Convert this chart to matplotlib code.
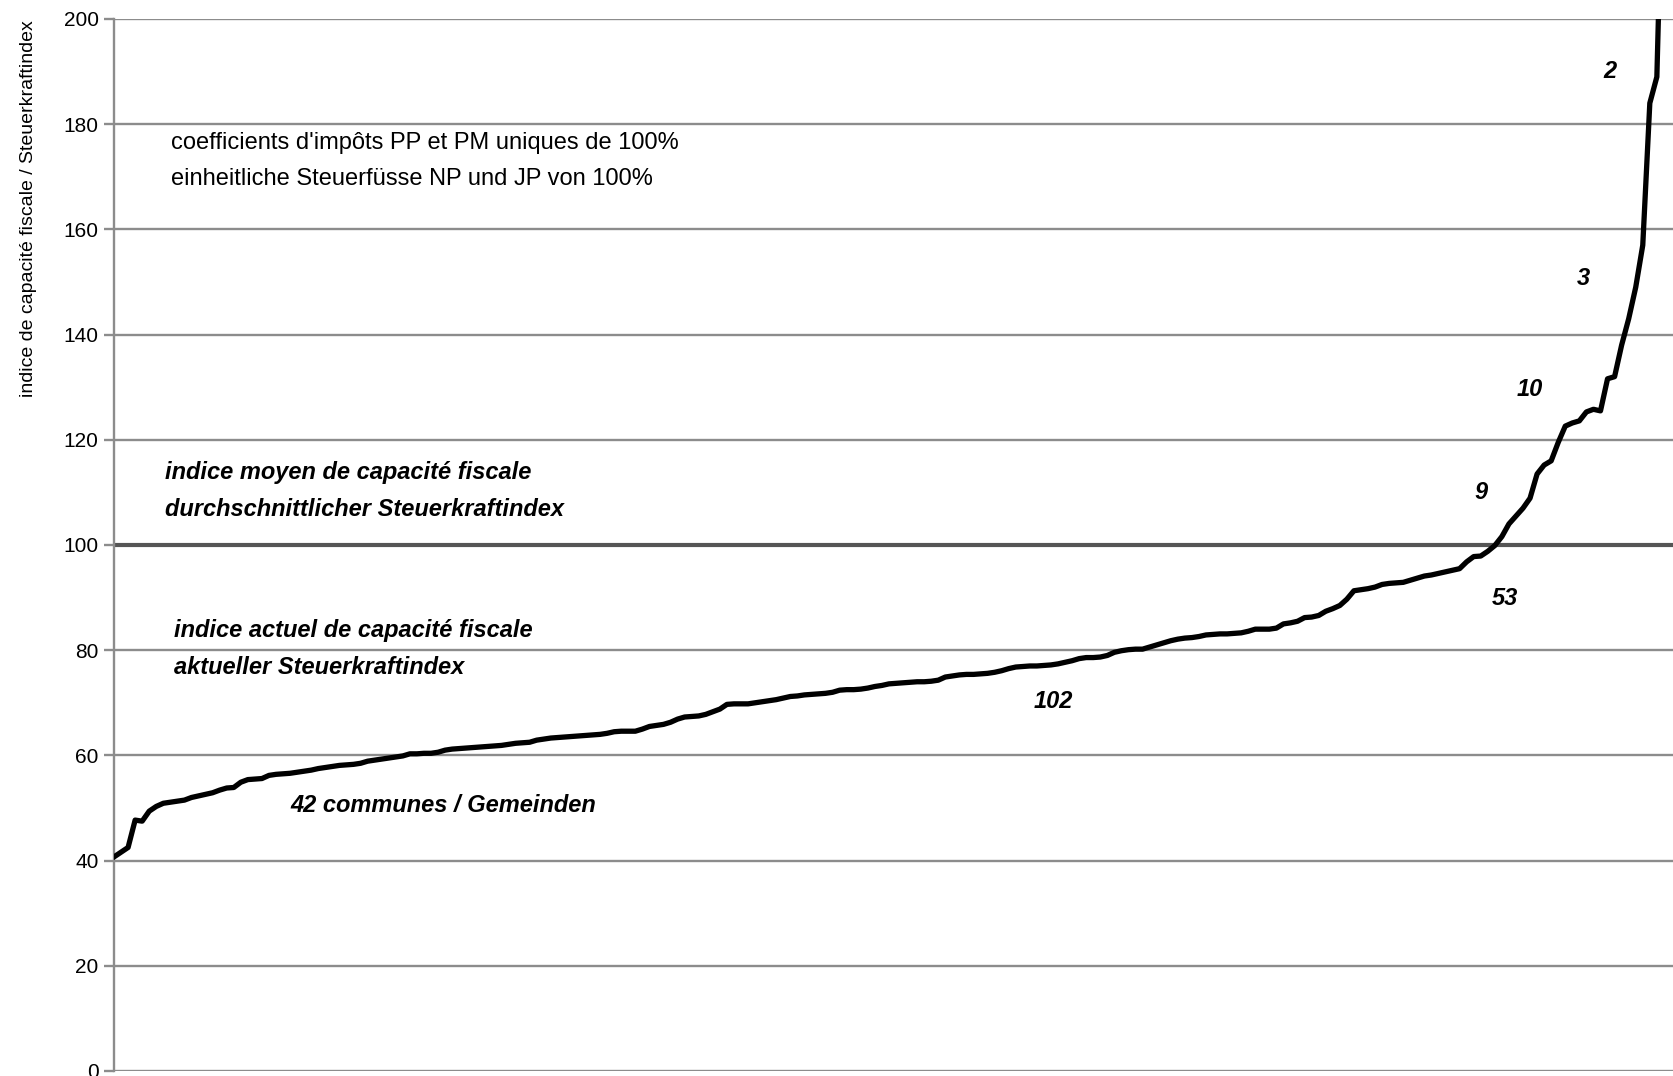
import matplotlib
matplotlib.use('Agg')
import matplotlib.pyplot as plt

# sorted tax capacity index per commune
indices = [
    40.7, 41.6, 42.5, 47.7, 47.5, 49.4, 50.3, 50.9, 51.1, 51.3,
    51.5, 52.0, 52.3, 52.6, 52.9, 53.4, 53.8, 53.9, 54.9, 55.4,
    55.5, 55.6, 56.2, 56.4, 56.5, 56.6, 56.8, 57.0, 57.2, 57.5,
    57.7, 57.9, 58.1, 58.2, 58.3, 58.5, 58.9, 59.1, 59.3, 59.5,
    59.7, 59.9, 60.3, 60.3, 60.4, 60.4, 60.6, 61.0, 61.2, 61.3,
    61.4, 61.5, 61.6, 61.7, 61.8, 61.9, 62.1, 62.3, 62.4, 62.5,
    62.9, 63.1, 63.3, 63.4, 63.5, 63.6, 63.7, 63.8, 63.9, 64.0,
    64.2, 64.5, 64.6, 64.6, 64.6, 65.0, 65.5, 65.7, 65.9, 66.3,
    66.9, 67.3, 67.4, 67.5, 67.8, 68.3, 68.8, 69.7, 69.8, 69.8,
    69.8, 70.0, 70.2, 70.4, 70.6, 70.9, 71.2, 71.3, 71.5, 71.6,
    71.7, 71.8, 72.0, 72.4, 72.5, 72.5, 72.6, 72.8, 73.1, 73.3,
    73.6, 73.7, 73.8, 73.9, 74.0, 74.0, 74.1, 74.3, 74.9, 75.1,
    75.3, 75.4, 75.4, 75.5, 75.6, 75.8, 76.1, 76.5, 76.8, 76.9,
    77.0, 77.0, 77.1, 77.2, 77.4, 77.7, 78.0, 78.4, 78.6, 78.6,
    78.7, 79.0, 79.6, 79.9, 80.1, 80.2, 80.2, 80.6, 81.0, 81.4,
    81.8, 82.1, 82.3, 82.4, 82.6, 82.9, 83.0, 83.1, 83.1, 83.2,
    83.3, 83.6, 84.0, 84.0, 84.0, 84.2, 85.0, 85.2, 85.5, 86.2,
    86.3, 86.6, 87.4, 87.9, 88.5, 89.7, 91.3, 91.5, 91.7, 92.0,
    92.5, 92.7, 92.8, 92.9, 93.3, 93.7, 94.1, 94.3, 94.6, 94.9,
    95.2, 95.5, 96.8, 97.8, 97.9, 98.8, 99.9, 101.6, 104.0, 105.5,
    107.0, 108.9, 113.5, 115.2, 116.0, 119.5, 122.6, 123.2, 123.6, 125.3,
    125.8, 125.5, 131.6, 132.0, 138.0, 143.0, 149.0, 157.0, 184.0, 189.0,
    240.0,
]
communes = list(range(1, len(indices) + 1))

yticks = [0, 20, 40, 60, 80, 100, 120, 140, 160, 180, 200]
mean_index = 100

ylabel = 'indice de capacité fiscale / Steuerkraftindex'
note_lines = ["coefficients d'impôts PP et PM uniques de 100%",
              'einheitliche Steuerfüsse NP und JP von 100%']
mean_lines = ['indice moyen de capacité fiscale', 'durchschnittlicher Steuerkraftindex']
actual_lines = ['indice actuel de capacité fiscale', 'aktueller Steuerkraftindex']
group_labels = ['42 communes / Gemeinden', '102', '53', '9', '10', '3', '2']
group_pos = [(26, 50.4), (134.4, 70.3), (198.4, 89.9), (195, 110), (202, 129.5), (209.5, 150.6), (213.4, 190)]

plt.rcParams['font.family'] = ['Liberation Sans', 'DejaVu Sans']

W, H = 1674, 1076
fig = plt.figure(figsize=(W / 100, H / 100), dpi=100)
ax_left = 114 / W
ax_bottom = (H - 1071) / H
ax_top = (H - 19) / H
ax_right = 1700 / W
ax = fig.add_axes([ax_left, ax_bottom, ax_right - ax_left, ax_top - ax_bottom])

px_per_commune = 7.045
ax.set_xlim(1, 1 + (1700 - 114) / px_per_commune)
ax.set_ylim(0, 200)

grid_col = '#8c8c8c'
for t in yticks:
    if t == mean_index:
        ax.axhline(t, color='#555555', lw=3.0, zorder=2)
    else:
        ax.axhline(t, color=grid_col, lw=1.7, zorder=1)

ax.plot(communes, indices, color='black', lw=3.8, solid_joinstyle='round', zorder=3)

for s in ['top', 'right', 'bottom']:
    ax.spines[s].set_visible(False)
ax.spines['left'].set_color(grid_col)
ax.spines['left'].set_linewidth(1.7)
ax.set_xticks([])
ax.set_yticks(yticks)
ax.tick_params(axis='y', direction='out', length=7, width=1.7, color=grid_col,
               labelsize=15, pad=4)

fig.text(29 / W, 1 - 209 / H, ylabel, rotation=90, ha='center', va='center', fontsize=14)

ax.text(9.1, 176.4, note_lines[0], fontsize=17, va='center', ha='left')
ax.text(9.1, 169.6, note_lines[1], fontsize=17, va='center', ha='left')
bold_it = dict(fontsize=17, va='center', style='italic', weight='bold')
ax.text(8.2, 113.7, mean_lines[0], ha='left', **bold_it)
ax.text(8.2, 106.8, mean_lines[1], ha='left', **bold_it)
ax.text(9.5, 83.7, actual_lines[0], ha='left', **bold_it)
ax.text(9.5, 76.8, actual_lines[1], ha='left', **bold_it)
for i, lab in enumerate(group_labels):
    x, y = group_pos[i]
    ax.text(x, y, lab, ha='left' if i == 0 else 'center', **bold_it)

fig.savefig('out.png', dpi=100)
